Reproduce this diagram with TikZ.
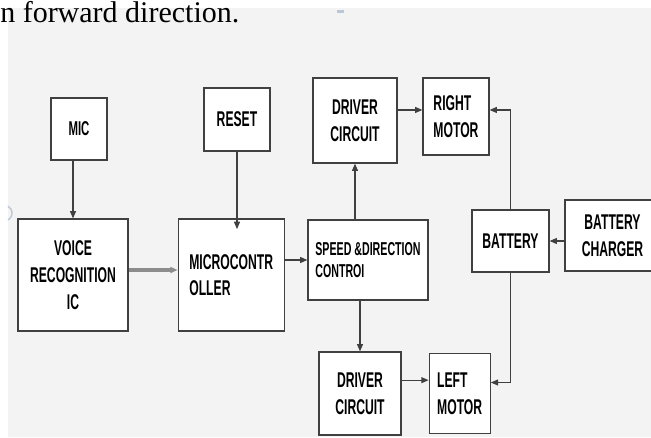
\documentclass[tikz,border=0pt]{standalone}
\usepackage{fontspec}
\setmainfont{Liberation Serif}
\newfontfamily\condsans[FakeStretch=0.57]{Liberation Sans}
\usetikzlibrary{positioning, arrows.meta}
\definecolor{PanelGray}{HTML}{F3F3F3}
\definecolor{LineGray}{HTML}{404040}
\definecolor{MarkBlue}{HTML}{B9C7D6}

\begin{document}
\begin{tikzpicture}[
  x=0.75pt, y=-0.75pt,
  blk/.style={draw=LineGray, fill=white, line width=0.9pt, align=center,
    inner sep=2pt, font=\condsans\bfseries\fontsize{16}{20}\selectfont},
  arr/.style={-{Triangle[length=5.5pt, width=4.5pt]}, line width=0.85pt, LineGray},
  fatarr/.style={-{Triangle[length=5.5pt, width=4.5pt]}, line width=2.4pt, black!45}
]
  \useasboundingbox (0,0) rectangle (651,437);
  \clip (0,0) rectangle (651,437);

  % Page background and scan marks
  \fill[PanelGray] (8,8) rectangle (651,437);
  \fill[MarkBlue] (337,10) rectangle (344,13);
  \draw[MarkBlue, line width=1pt] (8,220) arc[start angle=60, end angle=-60, radius=8];
  \node[anchor=base west, inner sep=0, font=\fontsize{22.5}{26}\selectfont] (caption)
    at (0,22) {n forward direction.};

  % Input side
  \node[blk, minimum width=42pt, minimum height=46.5pt,
    font=\condsans\bfseries\fontsize{15}{18}\selectfont] (mic) at (79,129) {MIC};
  \node[blk, minimum width=82.5pt, minimum height=84pt] (voice) at (73,275)
    {VOICE\\RECOGNITION\\IC};

  % Controller
  \node[blk, minimum width=49.5pt, minimum height=47.25pt] (reset) at (237,119.5) {RESET};
  \node[blk, right=36.75pt of voice, minimum width=79.5pt, minimum height=84pt,
    align=left] (micro) {MICROCONTR\\OLLER};

  % Speed and direction control
  \node[blk, minimum width=90pt, minimum height=60pt, align=left,
    font=\condsans\bfseries\fontsize{14}{17}\selectfont] (speed) at (368,260)
    {SPEED \&DIRECTION\\CONTROI};

  % Right drive
  \node[blk, minimum width=63pt, minimum height=63.75pt] (drvA) at (355,120.5)
    {DRIVER\\CIRCUIT};
  \node[blk, minimum width=49.5pt, minimum height=57.75pt, align=left] (rmotor)
    at (456,116.5) {RIGHT\\MOTOR};

  % Left drive
  \node[blk, minimum width=61.5pt, minimum height=62.25pt] (drvB) at (360,393.5)
    {DRIVER\\CIRCUIT};
  \node[blk, right=20.25pt of drvB, minimum width=45.75pt, minimum height=60pt,
    align=left] (lmotor) {LEFT\\MOTOR};

  % Power
  \node[blk, minimum width=57.75pt, minimum height=46.5pt] (batt) at (510.5,241) {BATTERY};
  \node[blk, minimum width=71.25pt, minimum height=53.25pt] (charger) at (612.5,235.5)
    {BATTERY\\CHARGER};

  % Arrows
  \draw[arr] (mic.south -| voice.north) -- (voice.north);
  \draw[arr] (reset.south) -- ([yshift=-8pt]reset.south |- micro.north);
  \draw[fatarr] ([yshift=3.75pt]voice.east) -- ([yshift=3.75pt]voice.east -| micro.west);
  \draw[arr] (speed.west -| micro.east) -- (speed.west);
  \draw[arr] (speed.north -| drvA.south) -- (drvA.south);
  \draw[arr] ([yshift=7.9pt]drvA.east) -- ([yshift=7.9pt]drvA.east -| rmotor.west);
  \draw[arr] (batt.north) |- ([yshift=4.9pt]rmotor.east);
  \draw[arr] (charger.west |- batt.east) -- (batt.east);
  \draw[arr] (speed.south -| drvB.north) -- (drvB.north);
  \draw[arr] ([yshift=10pt]drvB.east) -- ([yshift=10pt]drvB.east -| lmotor.west);
  \draw[arr] (batt.south) |- ([yshift=8.25pt]lmotor.east);
\end{tikzpicture}
\end{document}
